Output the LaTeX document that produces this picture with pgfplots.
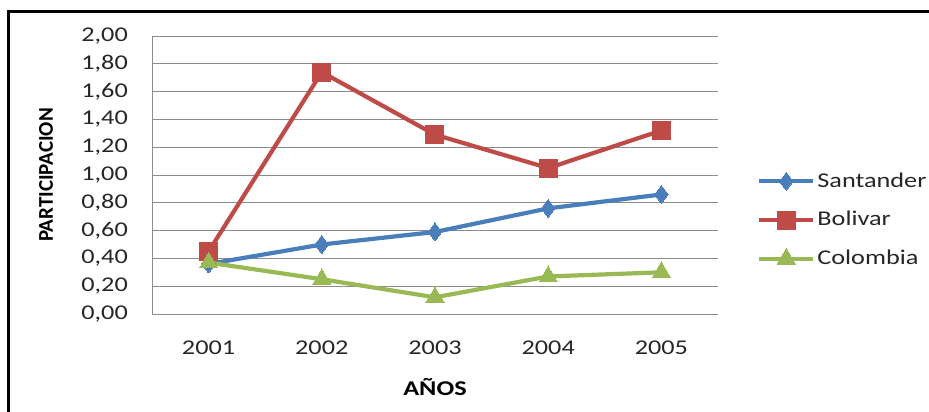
\documentclass[border=0pt]{standalone}
\usepackage{pgfplots}
\pgfplotsset{compat=1.18}
\usepackage{fontspec}
\setmainfont{Carlito}[FakeStretch=1.25]
\newfontfamily\plainfont{Carlito}
\definecolor{sblue}{HTML}{4A7EBB}
\definecolor{bred}{HTML}{BE4B48}
\definecolor{cgreen}{HTML}{98B954}
\definecolor{gridgray}{HTML}{8C8C8C}
\begin{document}
\fontsize{21pt}{25pt}\selectfont
\begin{tikzpicture}
\begin{axis}[
  scale only axis, width=566pt, height=278pt,
  xmin=0.5, xmax=5.5, ymin=0, ymax=2,
  xtick={1,2,3,4,5}, xticklabels={2001,2002,2003,2004,2005},
  ytick={0,0.2,...,2.01},
  axis lines*=left,
  axis line style={gridgray, line width=0.8pt, -},
  ymajorgrids, grid style={gridgray, line width=0.8pt},
  major tick length=0pt,
  tick label style={font=\fontsize{21pt}{25pt}\selectfont, text=black!85},
  yticklabel style={/pgf/number format/fixed, /pgf/number format/fixed zerofill, /pgf/number format/precision=2, /pgf/number format/use comma, /pgf/number format/assume math mode=true, xshift=-17pt},
  xticklabel style={yshift=-20pt},
  xlabel={\bfseries AÑOS},
  xlabel style={at={(axis description cs:0.5,-0.263)}, anchor=center, font=\fontsize{21pt}{25pt}\selectfont},
  ylabel={\plainfont\bfseries PARTICIPACION},
  ylabel style={at={(axis description cs:-0.187,0.5)}, anchor=center, rotate=0, font=\fontsize{21pt}{25pt}\selectfont},
  legend style={at={(axis description cs:1,0.338)}, anchor=west, xshift=39pt, draw=none, fill=none,
    inner sep=0pt, row sep=17pt, font=\fontsize{21pt}{25pt}\selectfont, text=black!85,
    nodes={inner sep=2pt}},
  legend cell align=left,
  legend image code/.code={\draw[mark repeat=2,mark phase=2] plot coordinates {(0pt,0pt) (27pt,0pt) (54pt,0pt)};},
  every axis plot/.append style={line width=4.2pt},
]
\coordinate (O) at (rel axis cs:0,0);
\addplot[sblue, mark=diamond*, mark size=9pt, mark options={line width=0pt}] coordinates {(1,0.36) (2,0.50) (3,0.59) (4,0.76) (5,0.86)};
\addlegendentry{Santander}
\addplot[bred, mark=square*, mark size=9pt, mark options={line width=0pt}] coordinates {(1,0.45) (2,1.74) (3,1.29) (4,1.05) (5,1.32)};
\addlegendentry{Bolivar}
\addplot[cgreen, mark=triangle*, mark size=10.5pt, mark options={line width=0pt}] coordinates {(1,0.37) (2,0.25) (3,0.12) (4,0.27) (5,0.30)};
\addlegendentry{Colombia}
\end{axis}
\pgfresetboundingbox
\begin{scope}[shift={(O)}, x=1pt, y=1pt]
\path[use as bounding box] (-152,-98) rectangle (777,314);
\draw[line width=3pt,black] (-143,-120) -- (-143,302) -- (800,302);
\end{scope}
\end{tikzpicture}
\end{document}
